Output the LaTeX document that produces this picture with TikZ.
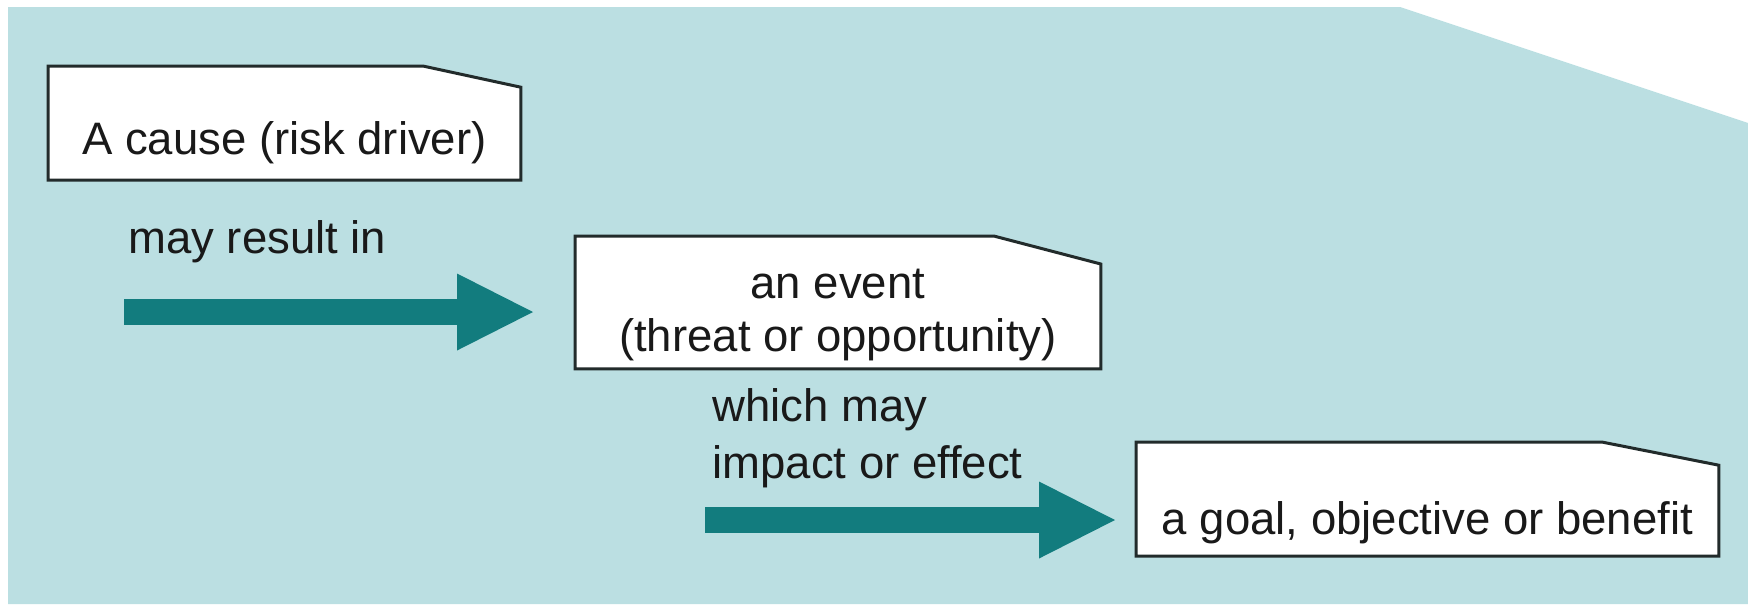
\documentclass[tikz,border=0pt]{standalone}
\usepackage{fontspec}
\setmainfont{Liberation Sans}
\usetikzlibrary{shapes, arrows, arrows.meta, positioning, backgrounds}
\definecolor{skyblue}{RGB}{187,223,226}
\definecolor{arrowteal}{RGB}{18,124,126}
\definecolor{edgegrey}{RGB}{34,43,43}

\begin{document}
\begin{tikzpicture}[x=0.5pt, y=-0.5pt, every node/.style={font=\fontsize{22.75pt}{26.5pt}\selectfont, text=black!90}]
        \tikzstyle{note} = [inner sep=0pt, text centered]
        \tikzstyle{folded} = [draw=edgegrey, line width=1.5pt, fill=white, line join=miter]
        \tikzstyle{phrase} = [inner sep=0pt, anchor=base west]
        \tikzstyle{bigarrow} = [draw=arrowteal, line width=13pt, -{Triangle[length=38pt, width=38.5pt, line width=0pt]}]

        \useasboundingbox (0,0) rectangle (1748,612);

        \node (cause) [note, anchor=south west, minimum width=236pt, text height=44pt, text depth=12.5pt] at (48,180) {A cause (risk driver)};
        \node (event) [note, anchor=north west, align=center, minimum width=262.5pt, text height=57.5pt, text depth=8.5pt] at (575,236) {an event\\(threat or opportunity)};
        \node (goal) [note, anchor=south west, minimum width=291pt, text height=46pt, text depth=10.5pt] at (1136,556) {a goal, objective or benefit};

        \node (resultin) [phrase] at (128,253) {may result in};
        \node (whichmay) [phrase, align=left, font=\fontsize{22.75pt}{28.3pt}\selectfont] at (712,478) {which may\\impact or effect};

        \coordinate (tailA) at (124,312);
        \coordinate (tipA) at (533,312);
        \coordinate (tailB) at (705,520);
        \coordinate (tipB) at (1115,520);
        \draw[bigarrow] (tailA) -- (tipA);
        \draw[bigarrow] (tailB) -- (tipB);

        \begin{pgfonlayer}{background}
            \fill[skyblue] (8,7) -- (1400,7) -- (1748,123) -- (1748,604) -- (8,604) -- cycle;
            \draw[folded] (cause.south west) -- (cause.north west) -- ([xshift=-48.5pt]cause.north east) -- ([yshift=-10.5pt]cause.north east) -- (cause.south east) -- cycle;
            \draw[folded] (event.south west) -- (event.north west) -- ([xshift=-53.5pt]event.north east) -- ([yshift=-14pt]event.north east) -- (event.south east) -- cycle;
            \draw[folded] (goal.south west) -- (goal.north west) -- ([xshift=-58pt]goal.north east) -- ([yshift=-11.5pt]goal.north east) -- (goal.south east) -- cycle;
        \end{pgfonlayer}
    \end{tikzpicture}
\end{document}
